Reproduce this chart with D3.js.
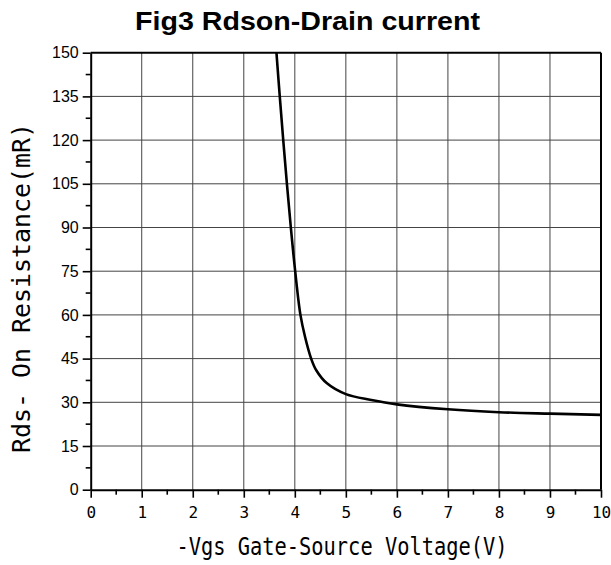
<!DOCTYPE html>
<html><head><meta charset="utf-8">
<script src="https://cdn.jsdelivr.net/npm/d3@7"></script>
<style>body{margin:0;background:#fff}svg{display:block}</style>
</head><body>
<svg id="c" width="611" height="565"></svg>
<script>
const title = "Fig3 Rdson-Drain current";
const xLabel = "-Vgs Gate-Source Voltage(V)";
const yLabel = "Rds- On Resistance(mR)";
const xTicks = [0,1,2,3,4,5,6,7,8,9,10];
const yTicks = [0,15,30,45,60,75,90,105,120,135,150];
const vgs = [3.64,3.705,3.773,3.845,3.922,4.007,4.11,4.2,4.32,4.42,4.63,5.0,5.5,6.0,7.0,8.0,9.0,10.0];
const rdson = [150,135,120,105,90,75,60,52.5,45,41,36.5,32.8,30.8,29.3,27.6,26.6,26.1,25.7];

const svg = d3.select("#c");
const L=90.7, R=601, T=52.7, B=489.7;
const x = d3.scaleLinear().domain([0,10]).range([L,R]);
const y = d3.scaleLinear().domain([0,150]).range([B,T]);

// grid
svg.append("g").selectAll("line").data(xTicks.slice(1,-1)).join("line")
  .attr("x1",d=>x(d)).attr("x2",d=>x(d)).attr("y1",T).attr("y2",B)
  .attr("stroke","#444").attr("stroke-width",1);
svg.append("g").selectAll("line").data(yTicks.slice(1,-1)).join("line")
  .attr("y1",d=>y(d)).attr("y2",d=>y(d)).attr("x1",L).attr("x2",R)
  .attr("stroke","#444").attr("stroke-width",1);

// curve
svg.append("clipPath").attr("id","clip").append("rect")
  .attr("x",L).attr("y",T).attr("width",R-L).attr("height",B-T);
const pts = vgs.map((v,i)=>[v,rdson[i]]);
svg.append("path").datum(pts)
  .attr("clip-path","url(#clip)")
  .attr("fill","none").attr("stroke","#000").attr("stroke-width",2.6)
  .attr("d", d3.line().x(d=>x(d[0])).y(d=>y(d[1])).curve(d3.curveCatmullRom.alpha(0.5)));

// frame top/right
svg.append("line").attr("x1",L).attr("x2",R).attr("y1",T).attr("y2",T).attr("stroke","#000").attr("stroke-width",2);
svg.append("line").attr("x1",R).attr("x2",R).attr("y1",T).attr("y2",B).attr("stroke","#000").attr("stroke-width",2);

// x axis
const xMinor = d3.range(0.5,10,1);
const gx = svg.append("g").attr("transform",`translate(0,${B})`);
gx.call(d3.axisBottom(x).tickValues(xTicks).tickSize(8).tickSizeOuter(0).tickFormat(d3.format("d")));
gx.selectAll("path.domain").attr("stroke-width",2);
gx.selectAll(".tick line").attr("stroke-width",1.6);
gx.selectAll(".tick text").attr("font-family","DejaVu Sans Mono").attr("font-size",16).attr("fill","#000").attr("dy",0).attr("y",28.6);
gx.append("g").selectAll("line").data(xMinor).join("line")
  .attr("x1",d=>x(d)).attr("x2",d=>x(d)).attr("y1",0).attr("y2",5)
  .attr("stroke","#000").attr("stroke-width",1.6);

// y axis
const yMinor = d3.range(7.5,150,15);
const gy = svg.append("g").attr("transform",`translate(${L},0)`);
gy.call(d3.axisLeft(y).tickValues(yTicks).tickSize(8).tickSizeOuter(0).tickFormat(d3.format("d")));
gy.selectAll("path.domain").attr("stroke-width",2);
gy.selectAll(".tick line").attr("stroke-width",1.6);
gy.selectAll(".tick text").attr("font-family","Liberation Sans").attr("font-size",16).attr("fill","#000").attr("x",-12);
gy.append("g").selectAll("line").data(yMinor).join("line")
  .attr("y1",d=>y(d)).attr("y2",d=>y(d)).attr("x1",0).attr("x2",-5)
  .attr("stroke","#000").attr("stroke-width",1.6);

// title
svg.append("text").attr("x",307.5).attr("y",30).attr("text-anchor","middle")
  .attr("font-family","Liberation Sans").attr("font-weight","bold").attr("font-size",25)
  .attr("textLength",345).attr("lengthAdjust","spacingAndGlyphs")
  .attr("fill","#000").text(title);

// axis labels
svg.append("text").attr("x",342).attr("y",555).attr("text-anchor","middle")
  .attr("font-family","DejaVu Sans Mono").attr("font-size",24)
  .attr("textLength",331).attr("lengthAdjust","spacingAndGlyphs")
  .attr("fill","#000").text(xLabel);
svg.append("text").attr("transform","translate(30,288) rotate(-90)").attr("text-anchor","middle")
  .attr("font-family","DejaVu Sans Mono").attr("font-size",24)
  .attr("textLength",330).attr("lengthAdjust","spacingAndGlyphs")
  .attr("fill","#000").text(yLabel);
</script>
</body></html>
